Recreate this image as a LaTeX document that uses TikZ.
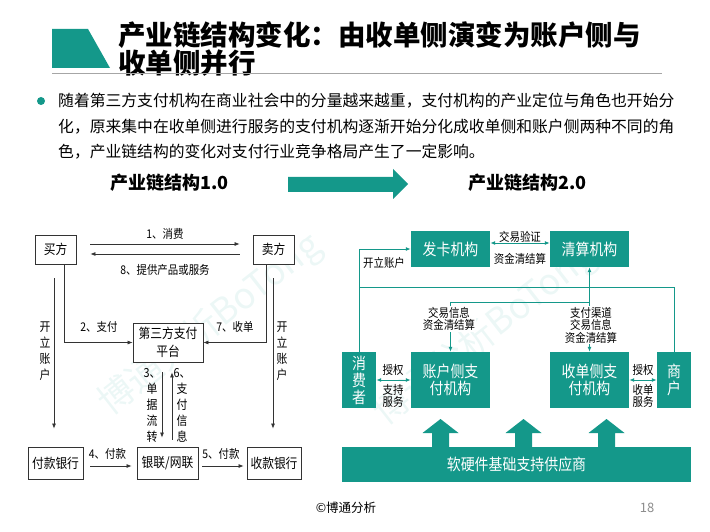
\documentclass[tikz,border=0pt]{standalone}
\usepackage{fontspec}
\setmainfont{Noto Sans CJK SC}
\newfontfamily\narrowcjk{Noto Sans CJK SC}[FakeStretch=0.87]
\usetikzlibrary{calc}
\usetikzlibrary{arrows.meta}
\definecolor{bt}{RGB}{20,152,138}
\tikzstyle{wbox} = [draw=black!80, line width=0.8pt, fill=white, inner sep=0pt, align=center, font=\narrowcjk\fontsize{13.5}{18.5}\selectfont]
\tikzstyle{gbox} = [fill=bt, text=white, inner sep=0pt, align=center, font=\narrowcjk\fontsize{16}{17}\selectfont]
\tikzstyle{lab} = [inner sep=1pt, align=center, font=\narrowcjk\fontsize{12}{12.5}\selectfont]
\tikzstyle{vlab} = [inner sep=0pt, align=center, font=\narrowcjk\fontsize{12.5}{16}\selectfont]
\tikzstyle{bline} = [draw=black!80, line width=0.7pt]
\tikzstyle{gline} = [draw=bt, line width=1pt]

\begin{document}
\begin{tikzpicture}[x=1pt, y=-1pt, >={Latex[length=5pt,width=4pt]}]

	\useasboundingbox (0,0) rectangle (710,532);

	% watermark
	\node[rotate=38, text=bt!8, font=\fontsize{36}{36}\selectfont] (wm1) at (210,325) {博通分析BoTong};
	\node[rotate=38, text=bt!8, font=\fontsize{36}{36}\selectfont] (wm2) at (485,335) {博通分析BoTong};

	% header
	\fill[bt] (52,29) -- (88,29) -- (110,68) -- (52,68) -- cycle;
	\node[anchor=west, inner sep=0pt, font=\bfseries\fontsize{27.5}{30}\selectfont] (T1) at (118,35) {产业链结构变化：由收单侧演变为账户侧与};
	\node[anchor=west, inner sep=0pt, font=\bfseries\fontsize{27.5}{30}\selectfont] (T2) at (118,63) {收单侧并行};
	\draw[black!35, line width=0.8pt] (52,73) -- (662,73);

	\fill[bt] (41,101) circle (4);
	\node[anchor=west, inner sep=0pt, font=\fontsize{15.8}{18}\selectfont] (P1) at (58,101) {随着第三方支付机构在商业社会中的分量越来越重，支付机构的产业定位与角色也开始分};
	\node[anchor=west, inner sep=0pt, font=\fontsize{15.8}{18}\selectfont] (P2) at (58,127) {化，原来集中在收单侧进行服务的支付机构逐渐开始分化成收单侧和账户侧两种不同的角};
	\node[anchor=west, inner sep=0pt, font=\fontsize{15.8}{18}\selectfont] (P3) at (58,152) {色，产业链结构的变化对支付行业竞争格局产生了一定影响。};

	\node[anchor=west, inner sep=0pt, font=\bfseries\fontsize{18}{20}\selectfont] (S1) at (110,183) {产业链结构1.0};
	\node[anchor=west, inner sep=0pt, font=\bfseries\fontsize{18}{20}\selectfont] (S2) at (468,183) {产业链结构2.0};
	\fill[bt] (288,177) -- (393,177) -- (393,169) -- (408,184) -- (393,199) -- (393,192) -- (288,192) -- cycle;

	% structure 1.0
	\node[wbox, minimum width=41, minimum height=29] (buyer) at (55.5,249.5) {买方};
	\node[wbox, minimum width=41, minimum height=29] (seller) at (273.5,249.5) {卖方};
	\node[wbox, minimum width=70, minimum height=39] (platform) at (168,342.5) {第三方支付\\平台};
	\node[wbox, minimum width=55, minimum height=32] (payer) at (55.5,463) {付款银行};
	\node[wbox, minimum width=61, minimum height=32] (union) at (167.5,463) {银联/网联};
	\node[wbox, minimum width=54, minimum height=32] (payee) at (274,463) {收款银行};

	\draw[bline, ->, shorten <=14pt, shorten >=13pt] ([yshift=5.5pt]buyer.east) -- ([yshift=5.5pt]seller.west);
	\draw[bline, ->, shorten <=13pt, shorten >=14pt] ([yshift=-4.5pt]seller.west) -- ([yshift=-4.5pt]buyer.east);
	\draw[bline, ->] ([xshift=8.5pt]buyer.south) |- (platform.west);
	\draw[bline, ->] ([xshift=-7.5pt]seller.south) |- (platform.east);
	\draw[bline, ->] ($(buyer.south)+(-1.5,14)$) -- ($(payer.north)+(-1.5,-18)$);
	\draw[bline, ->] ($(seller.south)+(-0.5,14)$) -- ($(payee.north)+(-1,-18)$);
	\draw[bline, ->] ($(platform.south)+(-6,10)$) -- ($(union.north)+(-5.5,-9)$);
	\draw[bline, ->] ($(union.north)+(4.5,-7)$) -- ($(platform.south)+(4,10)$);
	\draw[bline, ->, shorten <=7pt, shorten >=5pt] ([yshift=-3pt]payer.east) -- ([yshift=-3pt]union.west);
	\draw[bline, ->, shorten <=4pt, shorten >=3pt] ([yshift=-3pt]union.east) -- ([yshift=-3pt]payee.west);

	\node[lab] (l1) at (165,234) {1、消费};
	\node[lab] (l8) at (165,270) {8、提供产品或服务};
	\node[lab] (l2) at (99,327) {2、支付};
	\node[lab] (l7) at (235,327) {7、收单};
	\node[lab] (l4) at (107.5,454) {4、付款};
	\node[lab] (l5) at (221,454) {5、付款};
	\node[vlab] (va) at (45,351.5) {开\\立\\账\\户};
	\node[vlab] (vb) at (282,351.5) {开\\立\\账\\户};
	\node[vlab] (l3) at (152,405) {3、\\单\\据\\流\\转};
	\node[vlab] (l6) at (182,405) {6、\\支\\付\\信\\息};

	% structure 2.0
	\node[gbox, minimum width=79, minimum height=36] (card) at (450.5,249) {发卡机构};
	\node[gbox, minimum width=79, minimum height=36] (clearing) at (589.5,249) {清算机构};
	\node[gbox, minimum width=34, minimum height=56] (consumer) at (359,380) {消\\费\\者};
	\node[gbox, minimum width=79, minimum height=56] (acct) at (450.5,380) {账户侧支\\付机构};
	\node[gbox, minimum width=79, minimum height=56] (acq) at (589.5,380) {收单侧支\\付机构};
	\node[gbox, minimum width=34, minimum height=56] (merchant) at (674,380) {商\\户};
	\node[gbox, minimum width=349, minimum height=35] (supplier) at (516.5,464.5) {软硬件基础支持供应商};

	\foreach \ux in {440.5,523.5,606.5}
		\fill[bt] (\ux-8.5,447) -- (\ux-8.5,433) -- (\ux-18,433) -- (\ux,419) -- (\ux+18,433) -- (\ux+8.5,433) -- (\ux+8.5,447) -- cycle;

	\coordinate (cjoin) at (359,287);
	\coordinate (qjoin) at (589.5,302);

	\draw[gline, <->] ([yshift=6pt]card.east) -- ([yshift=6pt]clearing.west);
	\draw[gline, ->] (consumer.north) |- (card.west);
	\draw[gline] (cjoin) -| (merchant.north);
	\draw[gline, <->] (clearing.south) -- (acq.north);
	\draw[gline, ->] (qjoin) -| (acct.north);
	\draw[gline, <->] (consumer.east) -- (acct.west);
	\draw[gline, <->] (acq.east) -- (merchant.west);

	\node[lab] (r1) at (520,237) {交易验证};
	\node[lab] (r2) at (520,259) {资金清结算};
	\node[lab] (r3) at (384,263) {开立账户};
	\node[lab, fill=white] (r4) at (449,319) {交易信息\\资金清结算};
	\node[lab, fill=white] (r5) at (591,325) {支付渠道\\交易信息\\资金清结算};
	\node[lab] (r6) at (393,370) {授权};
	\node[lab] (r7) at (393,396) {支持\\服务};
	\node[lab] (r8) at (643,370) {授权};
	\node[lab] (r9) at (643,396) {收单\\服务};

	% footer
	\node[font=\fontsize{12.5}{14}\selectfont] (F1) at (346,508) {©博通分析};
	\node[text=black!45, font=\fontsize{13}{14}\selectfont] (F2) at (647,508) {18};

\end{tikzpicture}
\end{document}
